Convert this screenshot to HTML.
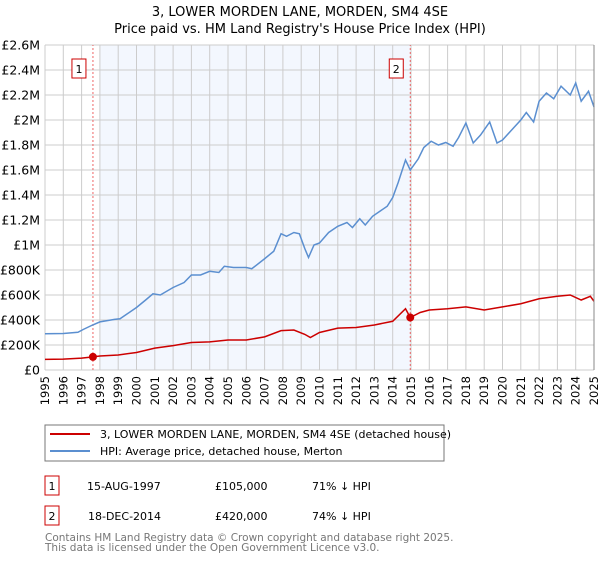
<!DOCTYPE html>
<html><head><meta charset="utf-8"><style>
body{margin:0;background:#fff;font-family:"Liberation Sans","DejaVu Sans",sans-serif;}
svg text{font-family:"DejaVu Sans","Liberation Sans",sans-serif;}
</style></head><body>
<svg width="600" height="560" viewBox="0 0 600 560" xmlns="http://www.w3.org/2000/svg">
<text x="300" y="16" text-anchor="middle" font-size="13" fill="#000">3, LOWER MORDEN LANE, MORDEN, SM4 4SE</text>
<text x="300" y="33" text-anchor="middle" font-size="13" fill="#000">Price paid vs. HM Land Registry's House Price Index (HPI)</text>
<g id="plot"></g>
<rect x="45" y="425" width="399" height="36" fill="#fff" stroke="#777"/>
<line x1="50" y1="434" x2="90" y2="434" stroke="#cc0000" stroke-width="2"/>
<text x="100" y="438" font-size="11">3, LOWER MORDEN LANE, MORDEN, SM4 4SE (detached house)</text>
<line x1="50" y1="451" x2="90" y2="451" stroke="#5b8fd0" stroke-width="2"/>
<text x="100" y="455" font-size="11">HPI: Average price, detached house, Merton</text>
<g font-size="11">
<rect x="45" y="476" width="14" height="19" fill="#fff" stroke="#cc0000"/>
<text x="52" y="490" text-anchor="middle">1</text>
<text x="87" y="490">15-AUG-1997</text><text x="215" y="490">£105,000</text><text x="312" y="490">71% ↓ HPI</text>
<rect x="45" y="506" width="14" height="19" fill="#fff" stroke="#cc0000"/>
<text x="52" y="520" text-anchor="middle">2</text>
<text x="88" y="520">18-DEC-2014</text><text x="215" y="520">£420,000</text><text x="312" y="520">74% ↓ HPI</text>
</g>
<text x="45" y="541" font-size="10.5" fill="#777">Contains HM Land Registry data © Crown copyright and database right 2025.</text>
<text x="45" y="551" font-size="10.5" fill="#777">This data is licensed under the Open Government Licence v3.0.</text>
</svg>
<script>
const yearTicks=[1995,1996,1997,1998,1999,2000,2001,2002,2003,2004,2005,2006,2007,2008,2009,2010,2011,2012,2013,2014,2015,2016,2017,2018,2019,2020,2021,2022,2023,2024,2025];
const priceTicks=[0,200,400,600,800,1000,1200,1400,1600,1800,2000,2200,2400,2600];
const priceTickLabels=["£0","£200K","£400K","£600K","£800K","£1M","£1.2M","£1.4M","£1.6M","£1.8M","£2M","£2.2M","£2.4M","£2.6M"];
const hpiDates=[1995,1996,1996.8,1997.1,1997.6,1998,1998.8,1999.1,1999.5,2000,2000.5,2000.9,2001.3,2002,2002.6,2003,2003.5,2004,2004.5,2004.8,2005.3,2006,2006.3,2007,2007.5,2007.9,2008.2,2008.6,2008.9,2009.2,2009.4,2009.7,2010,2010.5,2011,2011.5,2011.8,2012.2,2012.5,2012.9,2013.3,2013.7,2014,2014.3,2014.7,2014.96,2015.4,2015.7,2016.1,2016.5,2016.9,2017.3,2017.6,2018,2018.4,2018.8,2019.3,2019.7,2020,2020.5,2021,2021.3,2021.7,2022,2022.4,2022.8,2023.2,2023.7,2024,2024.3,2024.7,2025];
const hpiValues=[290,292,302,325,360,385,405,410,450,500,560,610,600,660,700,760,760,790,780,830,820,820,810,890,950,1090,1070,1100,1090,970,900,1000,1016,1100,1150,1180,1140,1210,1160,1230,1270,1310,1380,1500,1680,1600,1690,1780,1830,1800,1820,1790,1860,1976,1816,1880,1984,1816,1840,1920,2000,2060,1984,2150,2216,2170,2270,2200,2296,2150,2230,2104];
const ppDates=[1995,1996,1997,1997.62,1998,1999,2000,2001,2002,2003,2004,2005,2006,2007,2007.9,2008.6,2009.2,2009.5,2010,2011,2012,2013,2014,2014.7,2014.96,2015.5,2016,2017,2018,2019,2020,2021,2022,2023,2023.7,2024.3,2024.8,2025];
const ppValues=[85,87,95,105,112,120,140,175,195,220,225,240,240,265,315,320,285,260,300,335,340,360,390,490,420,460,480,490,505,480,505,530,570,590,600,560,590,550];
const sales=[{n:"1",d:1997.62,v:105},{n:"2",d:2014.96,v:420}];
const X=d=>45+(d-1995)*18.3, Y=v=>370-v/200*25;
const NS="http://www.w3.org/2000/svg", g=document.getElementById('plot');
function mk(t,a){const e=document.createElementNS(NS,t);for(const k in a)e.setAttribute(k,a[k]);g.appendChild(e);return e;}
let e=mk('rect',{x:X(1998),y:Y(2600),width:X(2014.96)-X(1998),height:Y(0)-Y(2600),fill:'#f3f7fe'});


yearTicks.forEach(t=>{const l=mk('line',{x1:X(t),x2:X(t),y1:Y(0),y2:Y(2600),stroke:'#ccc'});


const tx=mk('text',{x:0,y:0,'font-size':11.5,'text-anchor':'end',transform:`translate(${X(t)+4},${Y(0)+6}) rotate(-90)`});tx.textContent=t;

});
priceTicks.forEach((t,i)=>{const l=mk('line',{x1:X(1995),x2:X(2025),y1:Y(t),y2:Y(t),stroke:'#ccc'});


const tx=mk('text',{x:40,y:Y(t)+4.5,'font-size':12.5,'text-anchor':'end'});tx.textContent=priceTickLabels[i];

});
sales.forEach(s=>{const l=mk('line',{x1:X(s.d),x2:X(s.d),y1:Y(0),y2:Y(2600),stroke:'#e66','stroke-dasharray':'2,2'});


const r=mk('rect',{x:X(s.d)-21,y:59,width:14,height:19,fill:'#fff',stroke:'#cc0000'});


const t=mk('text',{x:X(s.d)-14,y:73,'font-size':11,'text-anchor':'middle'});t.textContent=s.n;

});
const hp=mk('polyline',{points:hpiDates.map((d,i)=>X(d)+','+Y(hpiValues[i])).join(' '),fill:'none',stroke:'#5b8fd0','stroke-width':1.5});


const pp=mk('polyline',{points:ppDates.map((d,i)=>X(d)+','+Y(ppValues[i])).join(' '),fill:'none',stroke:'#cc0000','stroke-width':1.5});


sales.forEach(s=>{const c=mk('circle',{cx:X(s.d),cy:Y(s.v),r:4,fill:'#cc0000'});

});
const ax=mk('line',{x1:X(2025),x2:X(2025),y1:Y(0),y2:Y(2600),stroke:'#888'});


</script>
</body></html>
